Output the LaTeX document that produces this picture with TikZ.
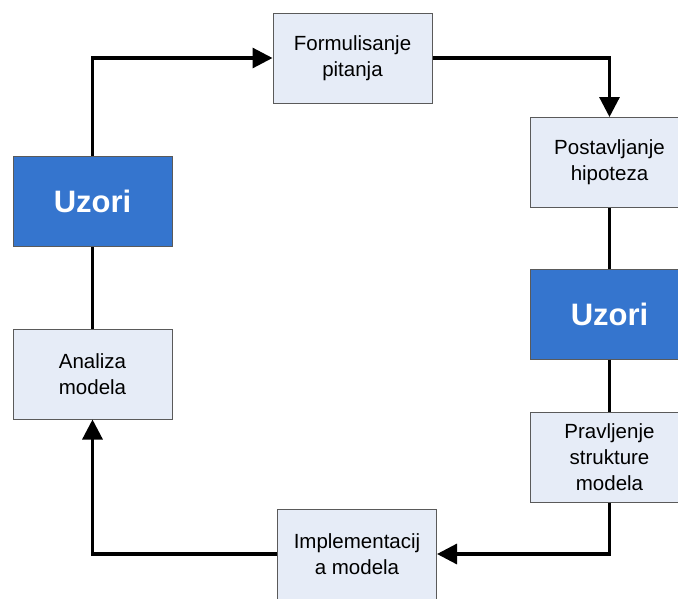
\documentclass[tikz,border=0pt]{standalone}
\usepackage{fontspec}
\setmainfont{Liberation Sans}
\usetikzlibrary{arrows.meta}
\definecolor{boxfill}{HTML}{E6ECF7}
\definecolor{boxline}{HTML}{5A5A5A}
\definecolor{uzfill}{HTML}{3575CE}
\begin{document}
\begin{tikzpicture}[x=1pt,y=-1pt,
  stepbox/.style={draw=boxline,line width=1pt,fill=boxfill,minimum width=159pt,minimum height=90pt,
    inner sep=0pt,align=center,font=\fontsize{20.5}{26}\selectfont,text=black},
  uzbox/.style={draw=boxline,line width=1pt,fill=uzfill,minimum width=159pt,minimum height=90pt,
    inner sep=0pt,font=\fontsize{31}{36}\selectfont\bfseries,text=white},
  link/.style={line width=3.2pt},
  flow/.style={line width=3.2pt,-{Triangle[length=20pt,width=20pt]}}]
\useasboundingbox (0,0) rectangle (678,598);
\node[stepbox] (form) at (352.5,58) {Formulisanje\\pitanja};
\node[stepbox] (post) at (609.5,162.5) {Postavljanje\\hipoteza};
\node[uzbox] (uzr) at (609.5,314) {Uzori};
\node[stepbox] (prav) at (609.5,457) {Pravljenje\\strukture\\modela};
\node[stepbox] (impl) at (357,554) {Implementacij\\a modela};
\node[stepbox] (anal) at (92.5,374) {Analiza\\modela};
\node[uzbox] (uzl) at (92.5,201.5) {Uzori};
\draw[flow] (uzl.north) |- (form.west);
\draw[flow] (form.east) -| (post.north);
\draw[link] (post.south) -- (uzr.north);
\draw[link] (uzr.south) -- (prav.north);
\draw[flow] (prav.south) |- (impl.east);
\draw[flow] (impl.west) -| (anal.south);
\draw[link] (anal.north) -- (uzl.south);
\end{tikzpicture}
\end{document}
